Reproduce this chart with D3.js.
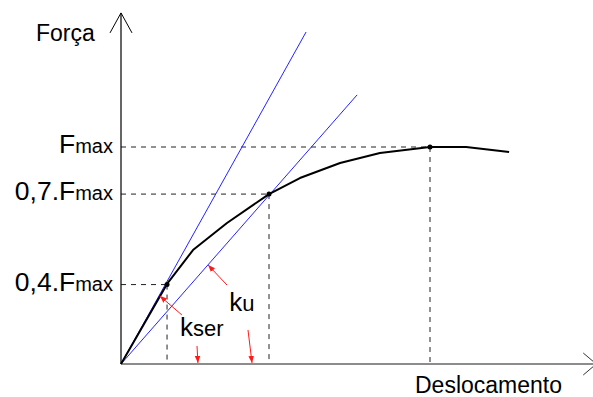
<!DOCTYPE html>
<html>
<head>
<meta charset="utf-8">
<script src="https://cdn.jsdelivr.net/npm/d3@7"></script>
<style>
  body { margin: 0; background: #fff; }
  svg { display: block; font-family: "Liberation Sans", Arial, sans-serif; }
</style>
</head>
<body>
<div id="chart"></div>
<script>
// displacement / force, relative to the peak (Fmax = 1)
var curveX = [0, 0.149, 0.233, 0.343, 0.479, 0.579, 0.709, 0.838, 1, 1.117, 1.256];
var curveY = [0, 0.369, 0.525, 0.650, 0.783, 0.857, 0.926, 0.972, 1, 1, 0.977];

// marked points on the curve (0,4.Fmax / 0,7.Fmax / Fmax)
var markX = [0.149, 0.479, 1];
var markY = [0.366, 0.783, 1];
var tickLabels = ['0,4.F', '0,7.F', 'F'];

// secant stiffness lines, from origin to end
var secantNames = ['kser', 'ku'];
var secantEndX = [0.599, 0.764];
var secantEndY = [1.53, 1.24];

// red pointer arrows: start -> tip
var arrowX0 = [0.197, 0.343, 0.246, 0.411];
var arrowY0 = [0.226, 0.364, 0.083, 0.157];
var arrowX1 = [0.126, 0.282, 0.249, 0.424];
var arrowY1 = [0.313, 0.456, 0.005, 0.005];

var kLabelX = [0.191, 0.350];
var kLabelY = [0.129, 0.244];
var kSub = ['ser', 'u'];

var w = 593, h = 397;
var x = d3.scaleLinear().domain([0, 1]).range([121, 430]);
var y = d3.scaleLinear().domain([0, 1]).range([364, 147]);

var svg = d3.select('#chart').append('svg')
  .attr('width', w).attr('height', h);

svg.append('defs').append('marker')
  .attr('id', 'redhead')
  .attr('viewBox', '0 0 10 10')
  .attr('refX', 10).attr('refY', 5)
  .attr('markerWidth', 7).attr('markerHeight', 7)
  .attr('markerUnits', 'userSpaceOnUse')
  .attr('orient', 'auto')
  .append('path')
  .attr('d', 'M0,1 L10,5 L0,9 Z')
  .attr('fill', '#ff1a1a');

// dashed guides
var guides = svg.append('g').attr('stroke', '#222').attr('stroke-width', 1).attr('stroke-dasharray', '5,5');
markX.forEach(function(mx, i) {
  guides.append('line')
    .attr('x1', x(0)).attr('x2', x(mx))
    .attr('y1', y(markY[i])).attr('y2', y(markY[i]));
  guides.append('line')
    .attr('x1', x(mx)).attr('x2', x(mx))
    .attr('y1', y(markY[i])).attr('y2', y(0));
});

// secant lines
secantEndX.forEach(function(ex, i) {
  svg.append('line')
    .attr('x1', x(0)).attr('y1', y(0))
    .attr('x2', x(ex)).attr('y2', y(secantEndY[i]))
    .attr('stroke', '#2424ff').attr('stroke-width', 1);
});

// axes
var xEnd = 1.538, yEnd = 1.618;
svg.append('line')
  .attr('x1', x(0)).attr('y1', y(0)).attr('x2', x(xEnd)).attr('y2', y(0))
  .attr('stroke', '#666').attr('stroke-width', 1.5);
svg.append('path')
  .attr('d', 'M' + (x(xEnd) - 13) + ',' + (y(0) - 11) + 'L' + x(xEnd) + ',' + y(0) + 'L' + (x(xEnd) - 13) + ',' + (y(0) + 11))
  .attr('fill', 'none').attr('stroke', '#333').attr('stroke-width', 1);
svg.append('line')
  .attr('x1', x(0)).attr('y1', y(0)).attr('x2', x(0)).attr('y2', y(yEnd))
  .attr('stroke', '#000').attr('stroke-width', 1.2);
svg.append('path')
  .attr('d', 'M' + (x(0) - 11) + ',' + (y(yEnd) + 20) + 'L' + x(0) + ',' + y(yEnd) + 'L' + (x(0) + 11) + ',' + (y(yEnd) + 20))
  .attr('fill', 'none').attr('stroke', '#000').attr('stroke-width', 1);

// curve
var pts = curveX.map(function(cx, i) { return [cx, curveY[i]]; });
var line = d3.line().x(function(d) { return x(d[0]); }).y(function(d) { return y(d[1]); });
svg.append('path')
  .datum(pts)
  .attr('d', line)
  .attr('fill', 'none').attr('stroke', '#000').attr('stroke-width', 2)
  .attr('stroke-linejoin', 'round');

svg.selectAll('.mark')
  .data(markX)
  .enter().append('circle')
  .attr('cx', function(d) { return x(d); })
  .attr('cy', function(d, i) { return y(markY[i]); })
  .attr('r', 2.5).attr('fill', '#000');

// red arrows
arrowX0.forEach(function(ax, i) {
  svg.append('line')
    .attr('x1', x(ax)).attr('y1', y(arrowY0[i]))
    .attr('x2', x(arrowX1[i])).attr('y2', y(arrowY1[i]))
    .attr('stroke', '#ff1a1a').attr('stroke-width', 1)
    .attr('marker-end', 'url(#redhead)');
});

// tick labels
tickLabels.forEach(function(t, i) {
  var tx = svg.append('text')
    .attr('x', x(0) - 8).attr('y', y(markY[i]) + 6)
    .attr('text-anchor', 'end').attr('font-size', 26.5).attr('fill', '#000');
  tx.append('tspan').text(t);
  tx.append('tspan').attr('font-size', 20).text('max');
});

// k labels
kSub.forEach(function(s, i) {
  var tx = svg.append('text')
    .attr('x', x(kLabelX[i])).attr('y', y(kLabelY[i]))
    .attr('font-size', 26).attr('fill', '#000');
  tx.append('tspan').text('k');
  tx.append('tspan').attr('font-size', 22).text(s);
});

// axis titles
svg.append('text')
  .attr('x', 36).attr('y', 41)
  .attr('font-size', 23).attr('fill', '#000')
  .text('Força');
svg.append('text')
  .attr('x', 415).attr('y', 393)
  .attr('font-size', 23).attr('fill', '#000')
  .text('Deslocamento');
</script>
</body>
</html>
